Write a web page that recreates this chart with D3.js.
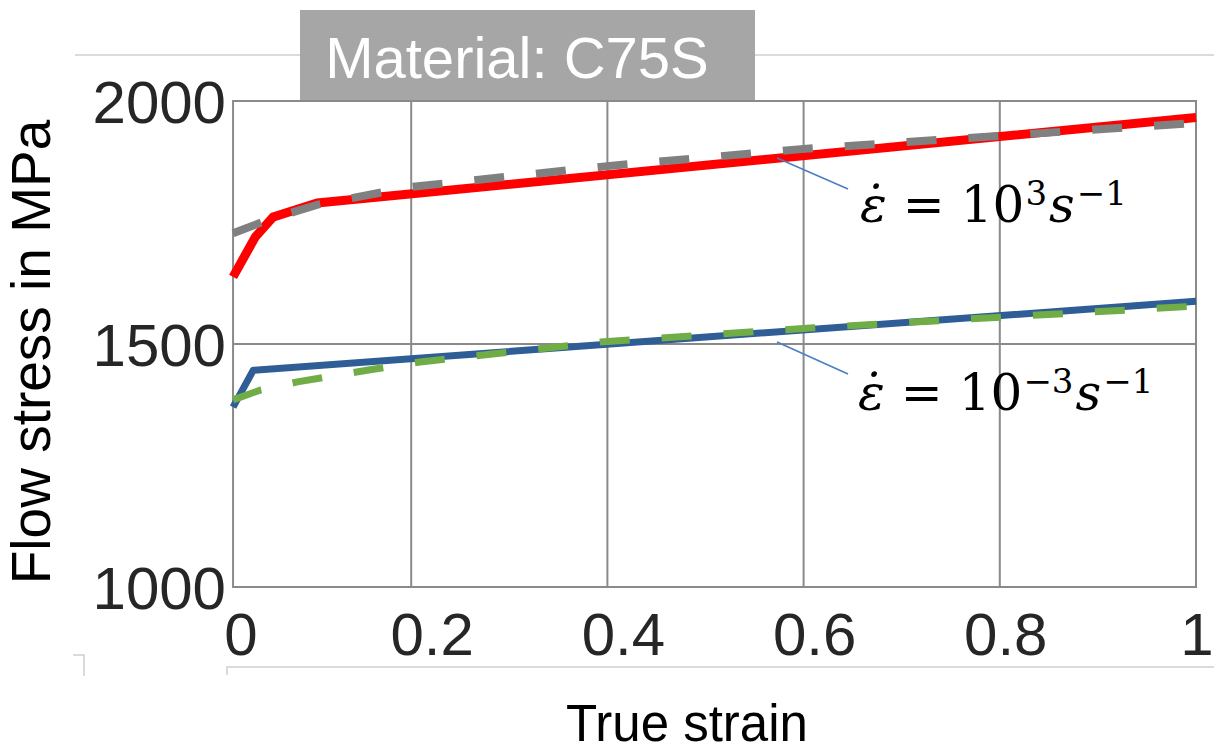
<!DOCTYPE html>
<html>
<head>
<meta charset="utf-8">
<script src="https://cdn.jsdelivr.net/npm/d3@7"></script>
<style>
  html, body { margin: 0; padding: 0; background: #ffffff; }
  svg { display: block; }
</style>
</head>
<body>
<svg id="chart" width="1214" height="754"></svg>
<script>
// ---- data ----
const xTicks = [0, 0.2, 0.4, 0.6, 0.8, 1];
const xTickLabels = ["0", "0.2", "0.4", "0.6", "0.8", "1"];
const yTicks = [1000, 1500, 2000];
const yTickLabels = ["1000", "1500", "2000"];
const xStart = 0.0184; // left edge of plotted strain window

// high strain rate (10^3 s^-1): experiment (red) and model (grey dashed)
const redStrain   = [0.0184, 0.041, 0.059, 0.104, 1.0];
const redStress   = [1638, 1720, 1761, 1790, 1966];
const greyStrain  = [0.0184, 0.056, 0.107, 0.199, 0.400, 0.597, 1.0];
const greyStress  = [1728, 1757, 1788, 1823, 1866, 1901, 1955];
// low strain rate (10^-3 s^-1): experiment (blue) and model (green dashed)
const blueStrain  = [0.0184, 0.039, 1.0];
const blueStress  = [1370, 1446, 1588];
const greenStrain = [0.0184, 0.046, 0.084, 0.158, 0.209, 0.393, 0.607, 1.0];
const greenStress = [1385, 1405, 1422, 1447, 1463, 1504, 1533, 1578];

const titleText = "Material: C75S";
const xTitle = "True strain";
const yTitle = "Flow stress in MPa";

// ---- drawing ----
(function () {
const svg = d3.select("#chart");
const x = d3.scaleLinear().domain([0, 1]).range([215, 1196]);
const xLab = d3.scaleLinear().domain([0, 1]).range([241, 1197]);
const y = d3.scaleLinear().domain([1000, 2000]).range([587, 101]);

const pLeft = x(xStart), pRight = x(1), pTop = y(2000), pBottom = y(1000);

// faint decorative lines of the original slide
svg.append("line").attr("x1", 75).attr("x2", 1214).attr("y1", 55).attr("y2", 55)
  .attr("stroke", "#cfcfcf").attr("stroke-width", 1.5);
svg.append("path").attr("d", "M227,675 L227,667 L1214,667")
  .attr("fill", "none").attr("stroke", "#cfcfcf").attr("stroke-width", 1.5);
svg.append("path").attr("d", "M73,655 L84,655 L84,676")
  .attr("fill", "none").attr("stroke", "#cfcfcf").attr("stroke-width", 1.5);

// grid
const grid = svg.append("g").attr("stroke", "#8a8a8a").attr("stroke-width", 2);
grid.selectAll("line.v").data(xTicks.filter(d => d > 0 && d < 1)).enter().append("line")
  .attr("x1", d => x(d)).attr("x2", d => x(d)).attr("y1", pTop).attr("y2", pBottom);
grid.selectAll("line.h").data(yTicks.filter(d => d > 1000 && d < 2000)).enter().append("line")
  .attr("x1", pLeft).attr("x2", pRight).attr("y1", d => y(d)).attr("y2", d => y(d));
svg.append("rect").attr("x", pLeft).attr("y", pTop).attr("width", pRight - pLeft).attr("height", pBottom - pTop)
  .attr("fill", "none").attr("stroke", "#8a8a8a").attr("stroke-width", 2);

// tick labels
svg.append("g").selectAll("text").data(yTicks).enter().append("text")
  .attr("x", 226).attr("y", d => y(d)).attr("dy", "0.36em")
  .attr("text-anchor", "end")
  .attr("font-family", "Liberation Sans, Arial, sans-serif").attr("font-size", 60)
  .attr("fill", "#262626").text((d, i) => yTickLabels[i]);
svg.append("g").selectAll("text").data(xTicks).enter().append("text")
  .attr("x", d => xLab(d)).attr("y", 655)
  .attr("text-anchor", "middle")
  .attr("font-family", "Liberation Sans, Arial, sans-serif").attr("font-size", 60)
  .attr("fill", "#262626").text((d, i) => xTickLabels[i]);

// axis titles
svg.append("text").attr("x", 687).attr("y", 741).attr("text-anchor", "middle")
  .attr("font-family", "Liberation Sans, Arial, sans-serif").attr("font-size", 51)
  .attr("fill", "#000").text(xTitle);
svg.append("text").attr("transform", "translate(50,352) rotate(-90)").attr("text-anchor", "middle")
  .attr("font-family", "Liberation Sans, Arial, sans-serif").attr("font-size", 55)
  .attr("fill", "#000").text(yTitle);

// curves
const line = d3.line().x(d => x(d[0])).y(d => y(d[1]));
const zip = (a, b) => a.map((v, i) => [v, b[i]]);
const g = svg.append("g").attr("fill", "none");
g.append("path").datum(zip(redStrain, redStress)).attr("d", line)
  .attr("stroke", "#ff0000").attr("stroke-width", 9).attr("stroke-linejoin", "round");
g.append("path").datum(zip(greyStrain, greyStress)).attr("d", line)
  .attr("stroke", "#808080").attr("stroke-width", 8).attr("stroke-dasharray", "30,32");
g.append("path").datum(zip(blueStrain, blueStress)).attr("d", line)
  .attr("stroke", "#2f5d96").attr("stroke-width", 7).attr("stroke-linejoin", "round");
g.append("path").datum(zip(greenStrain, greenStress)).attr("d", line)
  .attr("stroke", "#70ad47").attr("stroke-width", 7).attr("stroke-dasharray", "30,32");

// leader lines
svg.append("line").attr("x1", 777).attr("y1", 158).attr("x2", 848).attr("y2", 189)
  .attr("stroke", "#4a7ec4").attr("stroke-width", 1.5);
svg.append("line").attr("x1", 777).attr("y1", 342).attr("x2", 848).attr("y2", 374)
  .attr("stroke", "#4a7ec4").attr("stroke-width", 1.5);

// math annotations (flowing tspans)
function mathLabel(tokens, x0, baseline) {
  const t = svg.append("text").attr("x", x0).attr("y", baseline)
    .attr("font-family", "DejaVu Serif, Liberation Serif, serif")
    .attr("font-size", 50).attr("fill", "#000");
  let raised = false;
  tokens.forEach(tk => {
    const sp = t.append("tspan").text(tk.s)
      .attr("font-style", tk.it ? "italic" : "normal");
    if (tk.sup) sp.attr("font-size", 34);
    let dy = 0;
    if (tk.sup && !raised) { dy = -17; raised = true; }
    else if (!tk.sup && raised) { dy = 17; raised = false; }
    if (dy) sp.attr("dy", dy);
    if (tk.dx) sp.attr("dx", tk.dx);
  });
}
mathLabel([
  { s: "\u03B5\u0307", it: true },
  { s: "=", dx: 16 },
  { s: "10", dx: 16 },
  { s: "3", sup: true, dx: 1 },
  { s: "s", it: true, dx: 2 },
  { s: "\u22121", sup: true, dx: 2 }
], 860, 222);
mathLabel([
  { s: "\u03B5\u0307", it: true },
  { s: "=", dx: 16 },
  { s: "10", dx: 16 },
  { s: "\u22123", sup: true, dx: 1 },
  { s: "s", it: true, dx: 2 },
  { s: "\u22121", sup: true, dx: 2 }
], 858, 410);

// title box
svg.append("rect").attr("x", 300).attr("y", 10).attr("width", 455).attr("height", 90).attr("fill", "#a6a6a6");
svg.append("text").attr("x", 517).attr("y", 78).attr("text-anchor", "middle")
  .attr("font-family", "Liberation Sans, Arial, sans-serif").attr("font-size", 58)
  .attr("fill", "#ffffff").text(titleText);
})();
</script>
</body>
</html>
